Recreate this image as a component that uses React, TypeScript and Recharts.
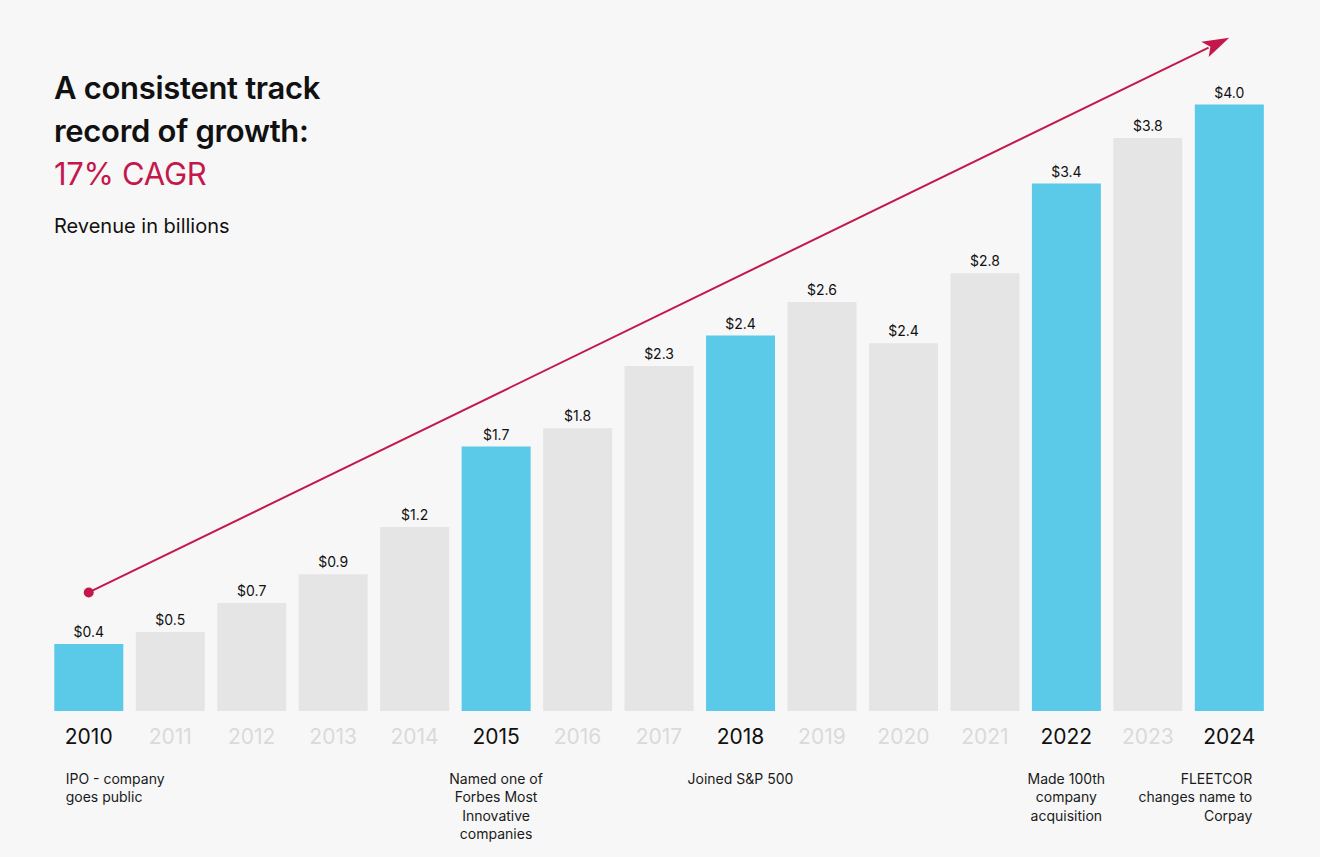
import React from 'react';
import {
  BarChart,
  Bar,
  Cell,
  XAxis,
  YAxis,
  LabelList,
  ReferenceLine,
} from 'recharts';

// Revenue in billions
const years = ['2010', '2011', '2012', '2013', '2014', '2015', '2016', '2017', '2018', '2019', '2020', '2021', '2022', '2023', '2024'];
const revenue = [0.44, 0.52, 0.71, 0.9, 1.21, 1.74, 1.86, 2.27, 2.47, 2.69, 2.42, 2.88, 3.47, 3.77, 3.99];
const revenueLabels = ['$0.4', '$0.5', '$0.7', '$0.9', '$1.2', '$1.7', '$1.8', '$2.3', '$2.4', '$2.6', '$2.4', '$2.8', '$3.4', '$3.8', '$4.0'];
const milestoneYears = ['2010', '2015', '2018', '2022', '2024'];
const milestoneNotes = [
  ['IPO - company', 'goes public'],
  ['Named one of', 'Forbes Most', 'Innovative', 'companies'],
  ['Joined S&P 500'],
  ['Made 100th', 'company', 'acquisition'],
  ['FLEETCOR', 'changes name to', 'Corpay'],
];
// trend arrow endpoints (year, revenue level)
const trendStart = { x: '2010', y: 0.78 };
const trendEnd = { x: '2024', y: 4.43 };

const BLUE = '#5bc9e8';
const GREY = '#e5e5e5';
const RED = '#c4184c';
const FONT = 'Inter, "Noto Sans", sans-serif';

const chartData = years.map((year, i) => ({ year, revenue: revenue[i], label: revenueLabels[i] }));

const YearTick = (props: any) => {
  const { x, y, payload } = props;
  const year = payload.value as string;
  const mi = milestoneYears.indexOf(year);
  const isMilestone = mi >= 0;
  const notes = isMilestone ? milestoneNotes[mi] : [];
  let anchor: 'start' | 'middle' | 'end' = 'middle';
  let nx = x;
  if (mi === 0) {
    anchor = 'start';
    nx = x - 23;
  } else if (mi === milestoneYears.length - 1) {
    anchor = 'end';
    nx = x + 23;
  }
  return (
    <g>
      <text
        x={x}
        y={y + 33}
        textAnchor="middle"
        fontSize={21}
        fontFamily={FONT}
        fill={isMilestone ? '#111' : '#dadada'}
      >
        {year}
      </text>
      {notes.map((line, k) => (
        <text
          key={k}
          x={nx}
          y={y + 73 + k * 18.3}
          textAnchor={anchor}
          fontSize={14}
          fontFamily={FONT}
          fill="#1a1a1a"
        >
          {line}
        </text>
      ))}
    </g>
  );
};

const TrendArrow = (props: any) => {
  const { x1, y1, x2, y2 } = props;
  if ([x1, y1, x2, y2].some((v) => v == null || isNaN(v))) return null;
  const ang = Math.atan2(y2 - y1, x2 - x1);
  const len = 27;
  const half = 8.5;
  const bx = x2 - len * Math.cos(ang);
  const by = y2 - len * Math.sin(ang);
  const px = -Math.sin(ang) * half;
  const py = Math.cos(ang) * half;
  return (
    <g>
      <line x1={x1} y1={y1} x2={bx + 4 * Math.cos(ang)} y2={by + 4 * Math.sin(ang)} stroke={RED} strokeWidth={2} />
      <circle cx={x1} cy={y1} r={5} fill={RED} />
      <polygon
        points={`${x2},${y2} ${bx + px},${by + py} ${bx + 6 * Math.cos(ang)},${by + 6 * Math.sin(ang)} ${bx - px},${by - py}`}
        fill={RED}
      />
    </g>
  );
};

export default function App() {
  return (
    <div
      style={{
        position: 'absolute',
        left: 0,
        top: 0,
        width: 1320,
        height: 857,
        background: '#f7f7f7',
        overflow: 'hidden',
        fontFamily: FONT,
      }}
    >
      <BarChart
        width={1320}
        height={857}
        data={chartData}
        margin={{ top: 27, right: 50, bottom: 116, left: 48 }}
        barCategoryGap={6.3}
      >
        <XAxis
          dataKey="year"
          axisLine={false}
          tickLine={false}
          tickSize={0}
          tickMargin={0}
          interval={0}
          tick={<YearTick />}
        />
        <YAxis domain={[0, 4.5]} hide allowDataOverflow />
        <Bar dataKey="revenue" isAnimationActive={false}>
          {chartData.map((d) => (
            <Cell key={d.year} fill={milestoneYears.includes(d.year) ? BLUE : GREY} />
          ))}
          <LabelList
            dataKey="label"
            position="top"
            offset={7}
            style={{ fontSize: 14, fontFamily: FONT, fill: '#111' }}
          />
        </Bar>
        <ReferenceLine
          segment={[trendStart, trendEnd]}
          ifOverflow="visible"
          shape={<TrendArrow />}
        />
      </BarChart>
      <div style={{ position: 'absolute', left: 54, top: 66, lineHeight: '43px' }}>
        <div style={{ fontSize: 31, fontWeight: 600, color: '#111', letterSpacing: -0.3 }}>A consistent track</div>
        <div style={{ fontSize: 31, fontWeight: 600, color: '#111', letterSpacing: -0.3 }}>record of growth:</div>
        <div style={{ fontSize: 31, fontWeight: 400, color: RED, letterSpacing: -0.3 }}>17% CAGR</div>
      </div>
      <div style={{ position: 'absolute', left: 54, top: 214, fontSize: 20, color: '#111' }}>
        Revenue in billions
      </div>
    </div>
  );
}
